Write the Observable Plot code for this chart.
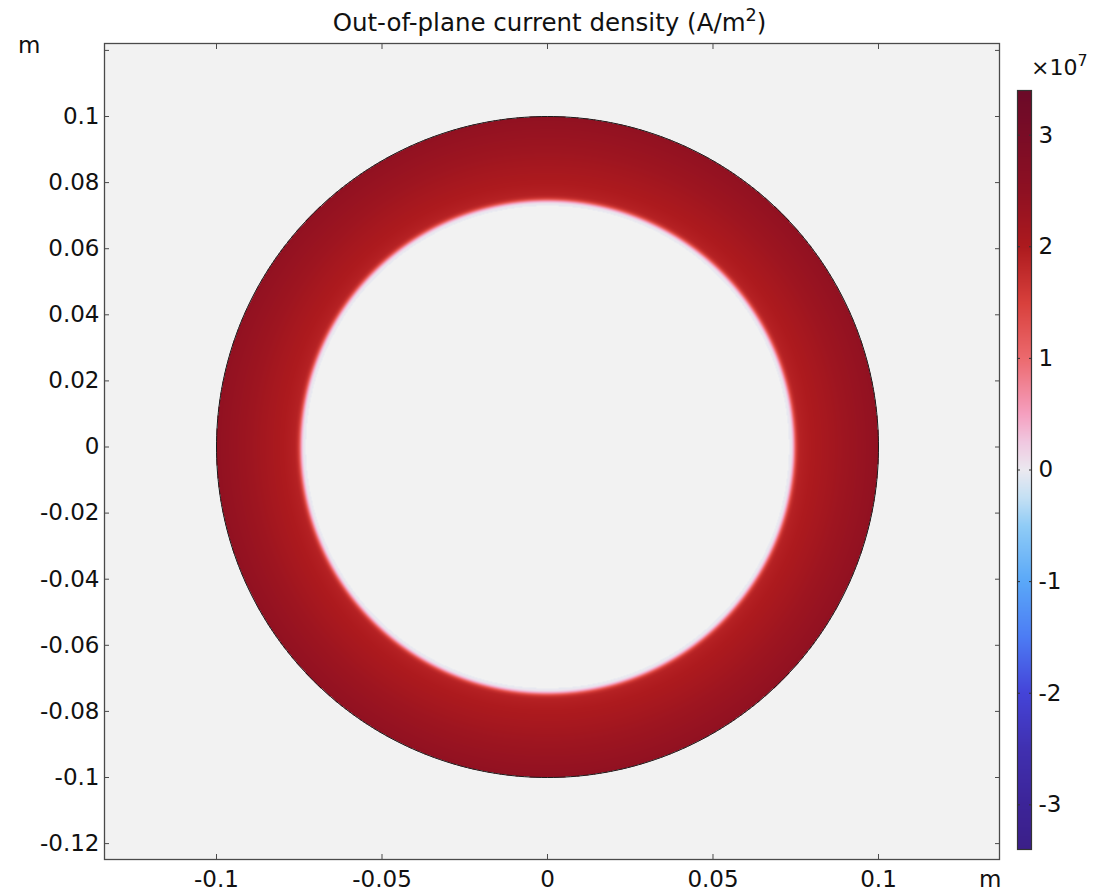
<!DOCTYPE html>
<html><head><meta charset="utf-8">
<script src="https://cdn.jsdelivr.net/npm/d3@7"></script>
<script src="https://cdn.jsdelivr.net/npm/@observablehq/plot@0.6"></script>
<style>
body{margin:0;background:#fff;font-family:"DejaVu Sans",sans-serif;}
#wrap{position:relative;width:1114px;height:891px;overflow:hidden;}
#wrap svg{position:absolute;top:0;}
.lbl{position:absolute;color:#111;white-space:nowrap;line-height:1;font-family:"DejaVu Sans",sans-serif;}
sup{font-size:0.72em;vertical-align:0;position:relative;top:-0.55em;}
</style></head><body>
<div id="wrap"></div>
<script>
// ---- data ----
const xDomain = [-0.13384, 0.13656];
const yDomain = [-0.12481, 0.12209];
const xTicks = [-0.1, -0.05, 0, 0.05, 0.1];
const yTicks = [-0.12, -0.1, -0.08, -0.06, -0.04, -0.02, 0, 0.02, 0.04, 0.06, 0.08, 0.1, 0.12];
const yLabelTicks = [-0.12, -0.1, -0.08, -0.06, -0.04, -0.02, 0, 0.02, 0.04, 0.06, 0.08, 0.1];
const outerRadius = 0.1;
// radial current-density profile (m -> A/m^2); inside the first radius nothing is drawn
const profileR = [0.0730, 0.0735, 0.0739, 0.0743, 0.0747, 0.0751, 0.0756, 0.0763, 0.0778, 0.0800, 0.0850, 0.0900, 0.0950, 0.1000];
const profileJ = [-0.03e7, 0.0, 0.15e7, 0.45e7, 0.9e7, 1.4e7, 1.75e7, 1.9e7, 1.95e7, 2.0e7, 2.12e7, 2.25e7, 2.35e7, 2.45e7];
// colour bar ("Wave" colormap)
const cbDomain = [-3.4e7, 3.4e7];
const cbTicks = [-3e7, -2e7, -1e7, 0, 1e7, 2e7, 3e7];
const colorStops = [-3.4e7, -3e7, -2.5e7, -2e7, -1.5e7, -1e7, -0.5e7, -0.25e7, 0, 0.25e7, 0.5e7, 1e7, 1.5e7, 2e7, 2.5e7, 3e7, 3.4e7];
const colorValues = ["#3b1f88", "#3c2498", "#4030b0", "#4444d8", "#4c7cf4", "#5aa8f8", "#90ccf6", "#c4e0f4", "#ebe9f0", "#f0c8e0", "#f5a0c0", "#ec6a6e", "#d8403c", "#ad1a1e", "#8e1022", "#7a0c26", "#6b0a28"];

const colorScale = {type: "linear", domain: colorStops, range: colorValues, clamp: true};
const fmt = d => String(+(+d).toFixed(2));
const font = {fontFamily: "DejaVu Sans", fontSize: "23px", color: "#111", background: "transparent"};

function profileAt(r) {
  if (r < profileR[0] || r > outerRadius) return NaN;
  const i = Math.min(d3.bisectRight(profileR, r), profileR.length - 1);
  if (i === 0) return profileJ[0];
  const r0 = profileR[i - 1], r1 = profileR[i];
  const t = Math.max(0, Math.min(1, (r - r0) / (r1 - r0)));
  return profileJ[i - 1] + t * (profileJ[i] - profileJ[i - 1]);
}

const outline = d3.range(0, 361).map(a => a * Math.PI / 180);
const frameColor = "#4a4a4a";

const main = Plot.plot({
  width: 1114, height: 891,
  marginLeft: 104, marginRight: 115, marginTop: 43, marginBottom: 32,
  style: font,
  x: {domain: xDomain, label: null},
  y: {domain: yDomain, label: null},
  color: colorScale,
  marks: [
    Plot.frame({fill: "#f2f2f2", stroke: null}),
    Plot.raster({
      fill: (x, y) => profileAt(Math.hypot(x, y)),
      x1: xDomain[0], x2: xDomain[1], y1: yDomain[0], y2: yDomain[1],
      width: 895, height: 816, imageRendering: "auto"
    }),
    Plot.line(outline, {x: a => outerRadius * Math.cos(a), y: a => outerRadius * Math.sin(a), stroke: "#1a1a1a", strokeWidth: 1}),
    Plot.frame({stroke: frameColor, strokeWidth: 1.3}),
    Plot.axisX(xTicks, {anchor: "bottom", tickSize: -5, tickPadding: 16, tickFormat: fmt, stroke: frameColor}),
    Plot.axisX(xTicks, {anchor: "top", tickSize: -5, tickFormat: () => "", stroke: frameColor}),
    Plot.axisY(yTicks, {anchor: "left", tickSize: -5, tickFormat: () => "", stroke: frameColor}),
    Plot.axisY(yLabelTicks, {anchor: "left", tickSize: 0, tickPadding: 5, tickFormat: fmt}),
    Plot.axisY(yTicks, {anchor: "right", tickSize: -5, tickFormat: () => "", stroke: frameColor})
  ]
});
main.style.left = "0px";

const bar = Plot.plot({
  width: 110, height: 891,
  marginLeft: 12, marginRight: 84, marginTop: 90, marginBottom: 42,
  style: font,
  x: {domain: [0, 1], axis: null},
  y: {domain: cbDomain, label: null},
  color: colorScale,
  marks: [
    Plot.raster({fill: (x, y) => y, x1: 0, x2: 1, y1: cbDomain[0], y2: cbDomain[1], width: 1, height: 759, imageRendering: "auto"}),
    Plot.frame({stroke: "#333", strokeWidth: 1.2}),
    Plot.axisY(cbTicks, {anchor: "left", tickSize: -3, tickFormat: () => "", stroke: "#333"}),
    Plot.axisY(cbTicks, {anchor: "right", tickSize: -3, tickPadding: 10, tickFormat: d => String(d / 1e7), stroke: "#333"})
  ]
});
bar.style.left = "1005px";

const wrap = document.getElementById("wrap");
wrap.append(main, bar);

function addLabel(html, left, top, size, extra) {
  const d = document.createElement("div");
  d.className = "lbl";
  d.innerHTML = html;
  d.style.left = left + "px";
  d.style.top = top + "px";
  d.style.fontSize = size + "px";
  if (extra) Object.assign(d.style, extra);
  wrap.append(d);
  return d;
}
const titleText = "Out-of-plane current density (A/m<sup>2</sup>)";
addLabel(titleText, 549.5, 11, 24.5, {transform: "translateX(-50%)"});
addLabel("m", 18, 33.5, 23);
addLabel("m", 979, 867.5, 23);
addLabel("×10<sup>7</sup>", 1031, 56.5, 22);
</script>
</body></html>
